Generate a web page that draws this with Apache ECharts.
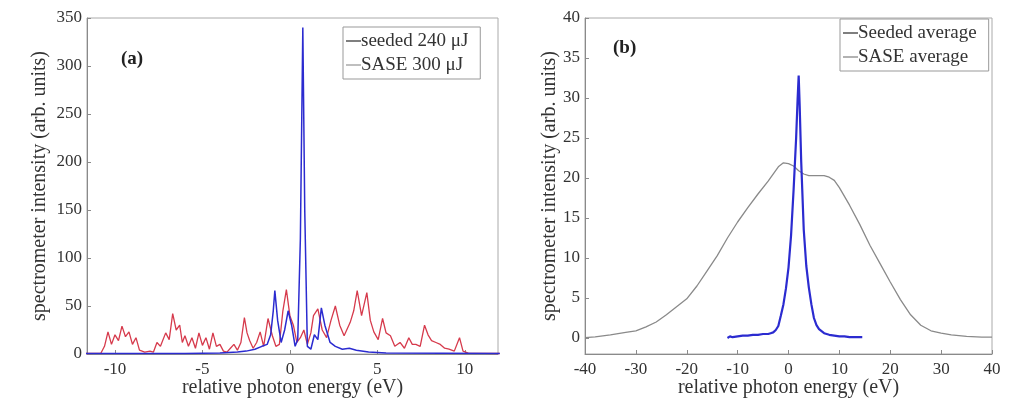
<!DOCTYPE html>
<html>
<head>
<meta charset="utf-8">
<script src="https://cdn.jsdelivr.net/npm/echarts@6/dist/echarts.min.js"></script>
<style>html,body{margin:0;padding:0;background:#fff}#c{width:1014px;height:400px}</style>
</head>
<body>
<div id="c"></div>
<script>
// ---- Panel (a): single-shot spectra ----
const saseAx = [-11.7,-10.8,-10.6,-10.4,-10.2,-10.0,-9.8,-9.6,-9.4,-9.2,-9.0,-8.8,-8.6,-8.3,-8.0,-7.8,-7.6,-7.4,-7.1,-6.9,-6.7,-6.5,-6.3,-6.15,-6.0,-5.8,-5.6,-5.4,-5.2,-5.0,-4.8,-4.6,-4.4,-4.2,-4.0,-3.8,-3.6,-3.4,-3.2,-3.0,-2.8,-2.6,-2.45,-2.3,-2.1,-1.9,-1.7,-1.5,-1.25,-1.0,-0.8,-0.6,-0.4,-0.2,0.0,0.2,0.4,0.6,0.8,1.0,1.2,1.35,1.6,1.85,2.1,2.35,2.6,2.85,3.1,3.45,3.65,3.85,4.1,4.4,4.6,4.8,5.05,5.3,5.5,5.75,6.0,6.3,6.55,6.8,7.0,7.2,7.45,7.7,7.9,8.1,8.35,8.6,8.85,9.1,9.4,9.7,9.9,10.2,12];
const saseAy = [0.5,1,8,23,10,20,14,29,18,23,10,17,4,2,3,2,12,8,22,15,42,25,30,12,19,8,17,6,22,9,17,5,22,8,10,3,2,6,10,4,12,38,22,14,6,12,23,8,37,19,8,10,45,67,40,30,12,17,25,10,22,40,47,25,17,35,50,30,19,33,45,66,40,64,35,23,15,37,22,19,8,12,6,17,10,10,8,30,20,14,12,10,6,5,3,17,3,1,0.5];
const seededAx = [-11.7,-6,-4,-3,-2.5,-2.0,-1.6,-1.3,-1.1,-0.95,-0.86,-0.7,-0.5,-0.3,-0.1,0.1,0.3,0.45,0.6,0.74,0.85,1.0,1.2,1.4,1.6,1.8,2.0,2.3,2.6,3.0,3.4,3.8,4.5,5.5,12];
const seededAy = [0.5,0.5,1,2,3,5,8,10,20,45,66,35,12,25,45,30,8,15,120,340,150,8,5,20,15,48,30,12,8,5,6,4,2,1,0.5];
const xTicksA = [-10,-5,0,5,10];

// ---- Panel (b): averaged spectra ----
const saseBx = [-40,-38,-35,-32,-30,-28,-26,-24,-22,-20,-18,-16,-14,-12,-10,-8,-6,-4,-2,-1,0,1,2,3,4,5,6,7,8,9,10,12,14,16,18,20,22,24,26,28,30,32,35,38,40];
const saseBy = [0.05,0.15,0.4,0.7,0.9,1.4,2.0,2.9,3.9,4.9,6.5,8.4,10.3,12.5,14.5,16.3,18.0,19.6,21.4,21.9,21.8,21.5,20.9,20.5,20.3,20.3,20.3,20.3,20.1,19.7,18.8,16.6,14.2,11.6,9.3,7.0,4.8,2.9,1.6,0.9,0.6,0.4,0.2,0.1,0.1];
const seededBx = [-12,-11.5,-11,-10,-9,-8,-7,-6,-5,-4,-3.5,-3,-2.5,-2,-1.5,-1,-0.5,0,0.5,1,1.5,1.8,2,2.2,2.5,3,3.5,4,4.5,5,5.5,6,7,8,9,10,11,12,13,14,14.5];
const seededBy = [0.0,0.2,0.1,0.2,0.3,0.3,0.4,0.4,0.5,0.5,0.6,0.7,1.0,1.5,2.8,4.2,6.2,8.8,12.8,18.5,25,30,32.8,29,22,13.5,9,6.3,4.2,2.5,1.6,1.1,0.6,0.4,0.3,0.2,0.2,0.1,0.1,0.1,0.1];
const yTicksB = [0,5,10,15,20,25,30,35,40];

const zip = (xs, ys) => xs.map((x, i) => [x, ys[i]]);
const font = 'Liberation Serif';
const txt = '#333';
const axisC = '#8a8a8a';
const nameSize = 20;
const tickSize = 17;

function xAxis(gi, min, max, extra) {
  return Object.assign({
    type: 'value', gridIndex: gi, min: min, max: max,
    name: 'relative photon energy (eV)', nameLocation: 'middle', nameGap: 24, nameMoveOverlap: false,
    nameTextStyle: { fontFamily: font, fontSize: nameSize, color: txt },
    axisLine: { show: true, onZero: false, lineStyle: { color: axisC } },
    axisTick: { inside: true, length: 4, lineStyle: { color: axisC } },
    axisLabel: { fontFamily: font, fontSize: tickSize, color: txt, margin: 7 },
    splitLine: { show: false }
  }, extra || {});
}
function yAxis(gi, min, max, gap, extra) {
  return Object.assign({
    type: 'value', gridIndex: gi, min: min, max: max,
    name: 'spectrometer intensity (arb. units)', nameLocation: 'middle', nameGap: gap, nameMoveOverlap: false,
    nameTextStyle: { fontFamily: font, fontSize: nameSize, color: txt },
    axisLine: { show: true, onZero: false, lineStyle: { color: axisC } },
    axisTick: { inside: true, length: 4, lineStyle: { color: axisC } },
    axisLabel: { fontFamily: font, fontSize: tickSize, color: txt, margin: 5 },
    splitLine: { show: false }
  }, extra || {});
}
function legend(left, top, items) {
  return {
    left: left, top: top, orient: 'vertical', itemGap: 2, itemWidth: 15, itemHeight: 1.5, icon: 'rect',
    padding: [3, 12, 3, 3], borderColor: '#999', borderWidth: 1, backgroundColor: '#fff',
    textStyle: { fontFamily: font, fontSize: 19, lineHeight: 22, color: '#333', padding: [0, 0, 0, -5] },
    data: items
  };
}

const chart = echarts.init(document.getElementById('c'), null, { renderer: 'canvas' });
chart.setOption({
  backgroundColor: '#fff',
  animation: false,
  title: [
    { text: '(a)', left: 116, top: 45, textStyle: { fontFamily: font, fontSize: 19, fontWeight: 'bold', color: '#222' } },
    { text: '(b)', left: 608, top: 34, textStyle: { fontFamily: font, fontSize: 19, fontWeight: 'bold', color: '#222' } }
  ],
  grid: [
    { left: 87, top: 18, width: 411, height: 336, show: true, borderColor: '#aaa', borderWidth: 1, backgroundColor: 'transparent', containLabel: false, outerBoundsMode: 'none' },
    { left: 585, top: 18, width: 407, height: 336, show: true, borderColor: '#aaa', borderWidth: 1, backgroundColor: 'transparent', containLabel: false, outerBoundsMode: 'none' }
  ],
  legend: [
    legend(343, 27, [
      { name: 'seeded 240 μJ', itemStyle: { color: '#555' } },
      { name: 'SASE 300 μJ', itemStyle: { color: '#aaa' } }
    ]),
    legend(840, 19, [
      { name: 'Seeded average', itemStyle: { color: '#555' } },
      { name: 'SASE average', itemStyle: { color: '#999' } }
    ])
  ],
  xAxis: [
    xAxis(0, -11.6, 11.9, {
      axisTick: { inside: true, length: 4, lineStyle: { color: axisC }, customValues: xTicksA },
      axisLabel: { fontFamily: font, fontSize: tickSize, color: txt, margin: 7, customValues: xTicksA }
    }),
    xAxis(1, -40, 40, { interval: 10 })
  ],
  yAxis: [
    yAxis(0, 0, 350, 37, { interval: 50 }),
    yAxis(1, -2, 40, 25, {
      axisTick: { inside: true, length: 4, lineStyle: { color: axisC }, customValues: yTicksB },
      axisLabel: { fontFamily: font, fontSize: tickSize, color: txt, margin: 5, customValues: yTicksB }
    })
  ],
  series: [
    { name: 'SASE 300 μJ', type: 'line', xAxisIndex: 0, yAxisIndex: 0, symbol: 'none',
      lineStyle: { color: '#d63a4c', width: 1.3 }, itemStyle: { color: '#d63a4c' }, data: zip(saseAx, saseAy) },
    { name: 'seeded 240 μJ', type: 'line', xAxisIndex: 0, yAxisIndex: 0, symbol: 'none',
      lineStyle: { color: '#2b2bd0', width: 1.5 }, itemStyle: { color: '#2b2bd0' }, data: zip(seededAx, seededAy) },
    { name: 'SASE average', type: 'line', xAxisIndex: 1, yAxisIndex: 1, symbol: 'none',
      lineStyle: { color: '#8a8a8a', width: 1.3 }, itemStyle: { color: '#8a8a8a' }, data: zip(saseBx, saseBy) },
    { name: 'Seeded average', type: 'line', xAxisIndex: 1, yAxisIndex: 1, symbol: 'none',
      lineStyle: { color: '#2b2bd0', width: 2.2 }, itemStyle: { color: '#2b2bd0' }, data: zip(seededBx, seededBy) }
  ]
});
</script>
</body>
</html>
